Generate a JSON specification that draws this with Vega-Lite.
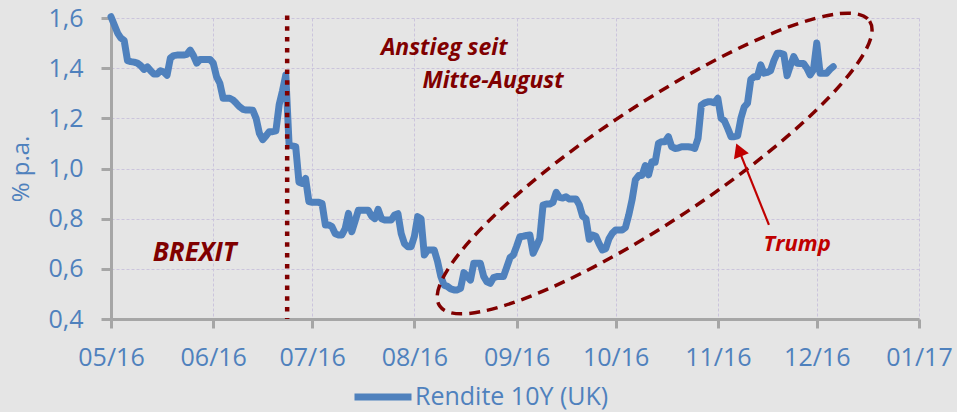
{
  "$schema": "https://vega.github.io/schema/vega-lite/v6.json",
  "width": 808,
  "height": 301,
  "autosize": {"type": "none"},
  "padding": {"left": 111, "top": 18, "right": 38, "bottom": 93},
  "background": "#e5e5e5",
  "config": {
    "locale": {"number": {"decimal": ",", "thousands": ".", "grouping": [3], "currency": ["", " €"]}},
    "view": {"stroke": null},
    "font": "Open Sans"
  },
  "datasets": {
    "yield": [
      {"date": "2016-05-01", "value": 1.605},
      {"date": "2016-05-03", "value": 1.54},
      {"date": "2016-05-04", "value": 1.52},
      {"date": "2016-05-05", "value": 1.51},
      {"date": "2016-05-06", "value": 1.43},
      {"date": "2016-05-07", "value": 1.426},
      {"date": "2016-05-08", "value": 1.424},
      {"date": "2016-05-09", "value": 1.42},
      {"date": "2016-05-10", "value": 1.41},
      {"date": "2016-05-11", "value": 1.395},
      {"date": "2016-05-12", "value": 1.405},
      {"date": "2016-05-13", "value": 1.39},
      {"date": "2016-05-14", "value": 1.377},
      {"date": "2016-05-15", "value": 1.377},
      {"date": "2016-05-16", "value": 1.39},
      {"date": "2016-05-17", "value": 1.385},
      {"date": "2016-05-18", "value": 1.372},
      {"date": "2016-05-19", "value": 1.44},
      {"date": "2016-05-20", "value": 1.45},
      {"date": "2016-05-21", "value": 1.452},
      {"date": "2016-05-22", "value": 1.452},
      {"date": "2016-05-23", "value": 1.452},
      {"date": "2016-05-24", "value": 1.455},
      {"date": "2016-05-25", "value": 1.472},
      {"date": "2016-05-26", "value": 1.45},
      {"date": "2016-05-27", "value": 1.42},
      {"date": "2016-05-28", "value": 1.435},
      {"date": "2016-05-29", "value": 1.435},
      {"date": "2016-05-30", "value": 1.435},
      {"date": "2016-05-31", "value": 1.435},
      {"date": "2016-06-01", "value": 1.42},
      {"date": "2016-06-02", "value": 1.366},
      {"date": "2016-06-03", "value": 1.34},
      {"date": "2016-06-04", "value": 1.28},
      {"date": "2016-06-05", "value": 1.28},
      {"date": "2016-06-06", "value": 1.28},
      {"date": "2016-06-07", "value": 1.273},
      {"date": "2016-06-08", "value": 1.26},
      {"date": "2016-06-09", "value": 1.246},
      {"date": "2016-06-10", "value": 1.236},
      {"date": "2016-06-11", "value": 1.233},
      {"date": "2016-06-12", "value": 1.233},
      {"date": "2016-06-13", "value": 1.232},
      {"date": "2016-06-14", "value": 1.2},
      {"date": "2016-06-15", "value": 1.14},
      {"date": "2016-06-16", "value": 1.115},
      {"date": "2016-06-17", "value": 1.13},
      {"date": "2016-06-18", "value": 1.147},
      {"date": "2016-06-19", "value": 1.147},
      {"date": "2016-06-20", "value": 1.15},
      {"date": "2016-06-21", "value": 1.255},
      {"date": "2016-06-22", "value": 1.31},
      {"date": "2016-06-23", "value": 1.373},
      {"date": "2016-06-24", "value": 1.094},
      {"date": "2016-06-25", "value": 1.09},
      {"date": "2016-06-26", "value": 1.087},
      {"date": "2016-06-27", "value": 0.945},
      {"date": "2016-06-28", "value": 0.94},
      {"date": "2016-06-29", "value": 0.96},
      {"date": "2016-06-30", "value": 0.868},
      {"date": "2016-07-01", "value": 0.865},
      {"date": "2016-07-02", "value": 0.865},
      {"date": "2016-07-03", "value": 0.865},
      {"date": "2016-07-04", "value": 0.86},
      {"date": "2016-07-05", "value": 0.775},
      {"date": "2016-07-06", "value": 0.775},
      {"date": "2016-07-07", "value": 0.768},
      {"date": "2016-07-08", "value": 0.74},
      {"date": "2016-07-09", "value": 0.735},
      {"date": "2016-07-10", "value": 0.735},
      {"date": "2016-07-11", "value": 0.76},
      {"date": "2016-07-12", "value": 0.821},
      {"date": "2016-07-13", "value": 0.748},
      {"date": "2016-07-14", "value": 0.79},
      {"date": "2016-07-15", "value": 0.834},
      {"date": "2016-07-16", "value": 0.834},
      {"date": "2016-07-17", "value": 0.834},
      {"date": "2016-07-18", "value": 0.834},
      {"date": "2016-07-19", "value": 0.81},
      {"date": "2016-07-20", "value": 0.8},
      {"date": "2016-07-21", "value": 0.837},
      {"date": "2016-07-22", "value": 0.8},
      {"date": "2016-07-23", "value": 0.795},
      {"date": "2016-07-24", "value": 0.795},
      {"date": "2016-07-25", "value": 0.795},
      {"date": "2016-07-26", "value": 0.815},
      {"date": "2016-07-27", "value": 0.82},
      {"date": "2016-07-28", "value": 0.74},
      {"date": "2016-07-29", "value": 0.7},
      {"date": "2016-07-30", "value": 0.688},
      {"date": "2016-07-31", "value": 0.688},
      {"date": "2016-08-01", "value": 0.73},
      {"date": "2016-08-02", "value": 0.808},
      {"date": "2016-08-03", "value": 0.8},
      {"date": "2016-08-04", "value": 0.655},
      {"date": "2016-08-05", "value": 0.675},
      {"date": "2016-08-06", "value": 0.675},
      {"date": "2016-08-07", "value": 0.675},
      {"date": "2016-08-08", "value": 0.63},
      {"date": "2016-08-09", "value": 0.57},
      {"date": "2016-08-10", "value": 0.535},
      {"date": "2016-08-11", "value": 0.53},
      {"date": "2016-08-12", "value": 0.52},
      {"date": "2016-08-13", "value": 0.516},
      {"date": "2016-08-14", "value": 0.516},
      {"date": "2016-08-15", "value": 0.522},
      {"date": "2016-08-16", "value": 0.585},
      {"date": "2016-08-17", "value": 0.57},
      {"date": "2016-08-18", "value": 0.555},
      {"date": "2016-08-19", "value": 0.622},
      {"date": "2016-08-20", "value": 0.622},
      {"date": "2016-08-21", "value": 0.622},
      {"date": "2016-08-22", "value": 0.57},
      {"date": "2016-08-23", "value": 0.548},
      {"date": "2016-08-24", "value": 0.542},
      {"date": "2016-08-25", "value": 0.565},
      {"date": "2016-08-26", "value": 0.569},
      {"date": "2016-08-27", "value": 0.569},
      {"date": "2016-08-28", "value": 0.569},
      {"date": "2016-08-30", "value": 0.645},
      {"date": "2016-08-31", "value": 0.655},
      {"date": "2016-09-01", "value": 0.69},
      {"date": "2016-09-02", "value": 0.728},
      {"date": "2016-09-03", "value": 0.73},
      {"date": "2016-09-04", "value": 0.733},
      {"date": "2016-09-05", "value": 0.735},
      {"date": "2016-09-06", "value": 0.662},
      {"date": "2016-09-07", "value": 0.69},
      {"date": "2016-09-08", "value": 0.72},
      {"date": "2016-09-09", "value": 0.854},
      {"date": "2016-09-10", "value": 0.858},
      {"date": "2016-09-11", "value": 0.858},
      {"date": "2016-09-12", "value": 0.865},
      {"date": "2016-09-13", "value": 0.905},
      {"date": "2016-09-14", "value": 0.885},
      {"date": "2016-09-15", "value": 0.882},
      {"date": "2016-09-16", "value": 0.887},
      {"date": "2016-09-17", "value": 0.878},
      {"date": "2016-09-18", "value": 0.878},
      {"date": "2016-09-19", "value": 0.878},
      {"date": "2016-09-20", "value": 0.855},
      {"date": "2016-09-21", "value": 0.81},
      {"date": "2016-09-22", "value": 0.8},
      {"date": "2016-09-23", "value": 0.718},
      {"date": "2016-09-24", "value": 0.735},
      {"date": "2016-09-25", "value": 0.73},
      {"date": "2016-09-26", "value": 0.7},
      {"date": "2016-09-27", "value": 0.675},
      {"date": "2016-09-28", "value": 0.68},
      {"date": "2016-09-29", "value": 0.72},
      {"date": "2016-09-30", "value": 0.742},
      {"date": "2016-10-01", "value": 0.755},
      {"date": "2016-10-02", "value": 0.755},
      {"date": "2016-10-03", "value": 0.755},
      {"date": "2016-10-04", "value": 0.765},
      {"date": "2016-10-05", "value": 0.815},
      {"date": "2016-10-06", "value": 0.875},
      {"date": "2016-10-07", "value": 0.955},
      {"date": "2016-10-08", "value": 0.972},
      {"date": "2016-10-09", "value": 0.972},
      {"date": "2016-10-10", "value": 1.012},
      {"date": "2016-10-11", "value": 0.975},
      {"date": "2016-10-12", "value": 1.027},
      {"date": "2016-10-13", "value": 1.025},
      {"date": "2016-10-14", "value": 1.1},
      {"date": "2016-10-15", "value": 1.107},
      {"date": "2016-10-16", "value": 1.107},
      {"date": "2016-10-17", "value": 1.127},
      {"date": "2016-10-18", "value": 1.087},
      {"date": "2016-10-19", "value": 1.08},
      {"date": "2016-10-20", "value": 1.082},
      {"date": "2016-10-21", "value": 1.087},
      {"date": "2016-10-22", "value": 1.087},
      {"date": "2016-10-23", "value": 1.087},
      {"date": "2016-10-24", "value": 1.085},
      {"date": "2016-10-25", "value": 1.08},
      {"date": "2016-10-26", "value": 1.12},
      {"date": "2016-10-27", "value": 1.253},
      {"date": "2016-10-28", "value": 1.262},
      {"date": "2016-10-29", "value": 1.266},
      {"date": "2016-10-30", "value": 1.266},
      {"date": "2016-10-31", "value": 1.262},
      {"date": "2016-11-01", "value": 1.28},
      {"date": "2016-11-02", "value": 1.2},
      {"date": "2016-11-03", "value": 1.19},
      {"date": "2016-11-04", "value": 1.16},
      {"date": "2016-11-05", "value": 1.127},
      {"date": "2016-11-06", "value": 1.127},
      {"date": "2016-11-07", "value": 1.13},
      {"date": "2016-11-08", "value": 1.2},
      {"date": "2016-11-09", "value": 1.245},
      {"date": "2016-11-10", "value": 1.26},
      {"date": "2016-11-11", "value": 1.355},
      {"date": "2016-11-12", "value": 1.366},
      {"date": "2016-11-13", "value": 1.366},
      {"date": "2016-11-14", "value": 1.413},
      {"date": "2016-11-15", "value": 1.38},
      {"date": "2016-11-16", "value": 1.383},
      {"date": "2016-11-17", "value": 1.39},
      {"date": "2016-11-18", "value": 1.43},
      {"date": "2016-11-19", "value": 1.459},
      {"date": "2016-11-20", "value": 1.459},
      {"date": "2016-11-21", "value": 1.455},
      {"date": "2016-11-22", "value": 1.37},
      {"date": "2016-11-23", "value": 1.41},
      {"date": "2016-11-24", "value": 1.446},
      {"date": "2016-11-25", "value": 1.42},
      {"date": "2016-11-26", "value": 1.419},
      {"date": "2016-11-27", "value": 1.419},
      {"date": "2016-11-28", "value": 1.4},
      {"date": "2016-11-29", "value": 1.373},
      {"date": "2016-11-30", "value": 1.393},
      {"date": "2016-12-01", "value": 1.5},
      {"date": "2016-12-02", "value": 1.38},
      {"date": "2016-12-03", "value": 1.38},
      {"date": "2016-12-04", "value": 1.38},
      {"date": "2016-12-05", "value": 1.395},
      {"date": "2016-12-06", "value": 1.406}
    ],
    "brexit": [{"date": "2016-06-23T10:00:00Z", "lo": 0.4, "hi": 1.61}],
    "ellipse": [{"date": "2016-10-12T20:00:00Z", "value": 1.02}],
    "arrow": [{"date": "2016-11-16T12:00:00Z", "value": 0.775, "date2": "2016-11-07T09:00:00Z", "value2": 1.0745}],
    "brexitLabel": [{"date": "2016-05-26T09:00:00Z", "value": 0.633, "label": "BREXIT"}],
    "riseLabel1": [{"date": "2016-08-10T01:00:00Z", "value": 1.452, "label": "Anstieg seit"}],
    "riseLabel2": [{"date": "2016-08-24T20:00:00Z", "value": 1.32, "label": "Mitte-August"}],
    "trumpLabel": [{"date": "2016-11-25T01:00:00Z", "value": 0.671, "label": "Trump"}]
  },
  "layer": [
    {
      "data": {"name": "yield"},
      "mark": {"type": "line", "strokeWidth": 7, "strokeJoin": "round", "strokeCap": "round"},
      "encoding": {
        "x": {
          "field": "date", "type": "temporal",
          "scale": {"type": "utc", "domain": [{"year": 2016, "month": 5, "date": 1, "utc": true}, {"year": 2017, "month": 1, "date": 1, "utc": true}]},
          "axis": {
            "title": null, "format": "%m/%y", "tickCount": {"interval": "month", "step": 1},
            "labelFontSize": 25, "labelColor": "#4F81BD", "labelFont": "Open Sans", "labelPadding": 17,
            "labelFlush": false, "labelOverlap": false, "labelBound": false,
            "tickSize": 9, "tickWidth": 3, "tickColor": "#a6a6a6",
            "domainColor": "#a6a6a6", "domainWidth": 3,
            "grid": true, "gridColor": "#cbc4dc", "gridDash": [3, 2], "gridWidth": 1
          }
        },
        "y": {
          "field": "value", "type": "quantitative",
          "scale": {"domain": [0.4, 1.6], "zero": false, "nice": false},
          "axis": {
            "title": "% p.a.", "values": [0.4, 0.6, 0.8, 1.0, 1.2, 1.4, 1.6], "format": ".1f",
            "labelFontSize": 25, "labelColor": "#4F81BD", "labelFont": "Open Sans", "labelPadding": 18,
            "tickSize": 10, "tickWidth": 3, "tickColor": "#a6a6a6",
            "domainColor": "#a6a6a6", "domainWidth": 3,
            "grid": true, "gridColor": "#cbc4dc", "gridDash": [3, 2], "gridWidth": 1,
            "titleFont": "Open Sans", "titleFontSize": 24, "titleFontWeight": "normal", "titleColor": "#4F81BD",
            "titleX": -90, "titleY": 150.5, "titleAngle": 270, "titleAlign": "center", "titleBaseline": "middle"
          }
        },
        "color": {
          "datum": "Rendite 10Y (UK)",
          "scale": {"range": ["#4F81BD"]},
          "legend": {
            "orient": "none", "legendX": 240, "legendY": 347, "title": null, "direction": "horizontal",
            "symbolType": "stroke", "symbolSize": 3249, "symbolStrokeWidth": 7,
            "labelFontSize": 25, "labelFont": "Open Sans", "labelColor": "#4F81BD", "labelLimit": 0,
            "padding": 0, "labelOffset": 0
          }
        }
      }
    },
    {
      "data": {"name": "brexit"},
      "mark": {"type": "rule", "color": "#800000", "strokeWidth": 4.5, "strokeDash": [4.5, 6.3]},
      "encoding": {
        "x": {"field": "date", "type": "temporal"},
        "y": {"field": "hi", "type": "quantitative"},
        "y2": {"field": "lo"}
      }
    },
    {
      "data": {"name": "ellipse"},
      "mark": {
        "type": "point",
        "shape": "M 1 0 C 1 0.124 0.552 0.225 0 0.225 C -0.552 0.225 -1 0.124 -1 0 C -1 -0.124 -0.552 -0.225 0 -0.225 C 0.552 -0.225 1 -0.124 1 0 Z",
        "size": 266000, "angle": 326.5, "filled": false, "stroke": "#800000",
        "strokeWidth": 3.5, "strokeDash": [11, 7], "opacity": 1
      },
      "encoding": {
        "x": {"field": "date", "type": "temporal"},
        "y": {"field": "value", "type": "quantitative"}
      }
    },
    {
      "data": {"name": "arrow"},
      "mark": {"type": "rule", "color": "#C00000", "strokeWidth": 2.2},
      "encoding": {
        "x": {"field": "date", "type": "temporal"},
        "y": {"field": "value", "type": "quantitative"},
        "x2": {"field": "date2"},
        "y2": {"field": "value2"}
      }
    },
    {
      "data": {"name": "arrow"},
      "mark": {"type": "point", "shape": "triangle-up", "size": 256, "angle": 338.2, "filled": true, "color": "#C00000", "opacity": 1},
      "encoding": {
        "x": {"field": "date2", "type": "temporal"},
        "y": {"field": "value2", "type": "quantitative"}
      }
    },
    {
      "data": {"name": "brexitLabel"},
      "mark": {"type": "text", "font": "Open Sans", "fontSize": 26, "fontWeight": "bold", "fontStyle": "italic", "color": "#800000", "align": "center", "baseline": "alphabetic"},
      "encoding": {
        "x": {"field": "date", "type": "temporal"},
        "y": {"field": "value", "type": "quantitative"},
        "text": {"field": "label"}
      }
    },
    {
      "data": {"name": "riseLabel1"},
      "mark": {"type": "text", "font": "Open Sans", "fontSize": 23, "fontWeight": "bold", "fontStyle": "italic", "color": "#800000", "align": "center", "baseline": "alphabetic"},
      "encoding": {
        "x": {"field": "date", "type": "temporal"},
        "y": {"field": "value", "type": "quantitative"},
        "text": {"field": "label"}
      }
    },
    {
      "data": {"name": "riseLabel2"},
      "mark": {"type": "text", "font": "Open Sans", "fontSize": 23, "fontWeight": "bold", "fontStyle": "italic", "color": "#800000", "align": "center", "baseline": "alphabetic"},
      "encoding": {
        "x": {"field": "date", "type": "temporal"},
        "y": {"field": "value", "type": "quantitative"},
        "text": {"field": "label"}
      }
    },
    {
      "data": {"name": "trumpLabel"},
      "mark": {"type": "text", "font": "Open Sans", "fontSize": 22, "fontWeight": "bold", "fontStyle": "italic", "color": "#C00000", "align": "center", "baseline": "alphabetic"},
      "encoding": {
        "x": {"field": "date", "type": "temporal"},
        "y": {"field": "value", "type": "quantitative"},
        "text": {"field": "label"}
      }
    }
  ]
}
